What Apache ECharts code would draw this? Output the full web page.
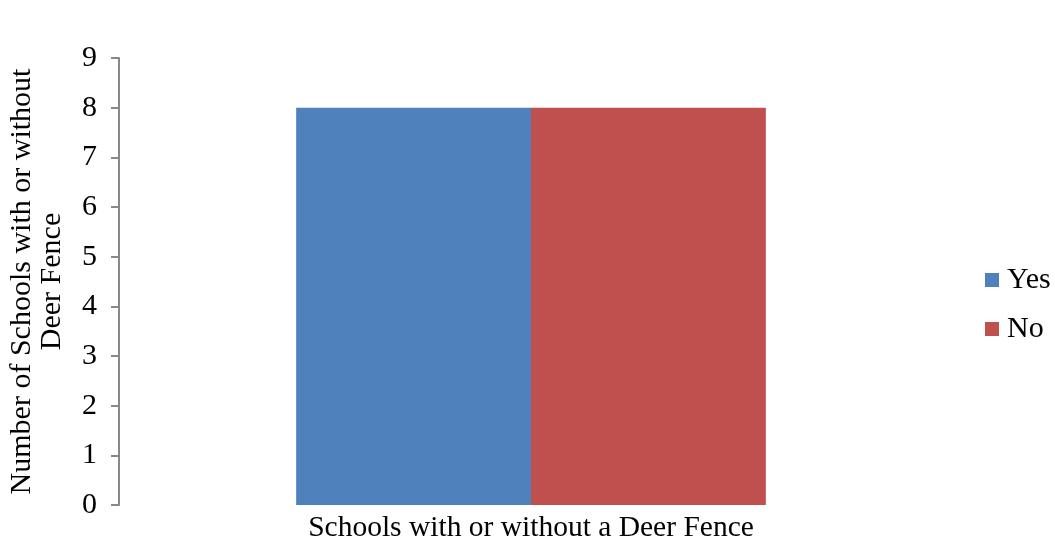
<!DOCTYPE html>
<html>
<head>
<meta charset="utf-8">
<script src="https://cdn.jsdelivr.net/npm/echarts@6/dist/echarts.min.js"></script>
<style>html,body{margin:0;padding:0;background:#fff}#c{width:1055px;height:540px}</style>
</head>
<body>
<div id="c"></div>
<script>
const categories = ['Schools with or without a Deer Fence'];
const seriesNames = ['Yes', 'No'];
const yesValues = [8];
const noValues = [8];
const yTicks = [0, 1, 2, 3, 4, 5, 6, 7, 8, 9];

const font = '"Liberation Serif", "Times New Roman", serif';
const chart = echarts.init(document.getElementById('c'));
chart.setOption({
  animation: false,
  textStyle: { fontFamily: font },
  grid: { left: 119, right: 112, top: 58, bottom: 35, outerBoundsMode: 'none', containLabel: false },
  legend: {
    orient: 'vertical',
    left: 980,
    top: 260,
    itemWidth: 14,
    itemHeight: 14,
    itemGap: 19,
    icon: 'rect',
    textStyle: { fontFamily: font, fontSize: 30, color: '#000', padding: [0, 0, 0, 3] },
    data: seriesNames
  },
  xAxis: {
    type: 'category',
    data: categories,
    axisLine: { show: false },
    axisTick: { show: false },
    axisLabel: { show: false },
    name: categories[0],
    nameLocation: 'middle',
    nameGap: 8,
    nameTextStyle: { fontFamily: font, fontSize: 29.5, color: '#000' }
  },
  yAxis: {
    type: 'value',
    min: yTicks[0],
    max: yTicks[yTicks.length - 1],
    interval: 1,
    axisLine: { show: true, lineStyle: { color: '#888', width: 2 } },
    axisTick: { show: true, length: 8, lineStyle: { color: '#888', width: 2 } },
    splitLine: { show: false },
    axisLabel: { fontFamily: font, fontSize: 30, color: '#000', margin: 22 },
    name: 'Number of Schools with or without\nDeer Fence',
    nameLocation: 'middle',
    nameRotate: 90,
    nameGap: 52,
    nameTextStyle: { fontFamily: font, fontSize: 30, color: '#000', lineHeight: 30 }
  },
  series: [
    { name: seriesNames[0], type: 'bar', data: yesValues, barGap: '0%', barCategoryGap: '43%', itemStyle: { color: '#4F81BD' } },
    { name: seriesNames[1], type: 'bar', data: noValues, barGap: '0%', barCategoryGap: '43%', itemStyle: { color: '#C0504D' } }
  ]
});
</script>
</body>
</html>
